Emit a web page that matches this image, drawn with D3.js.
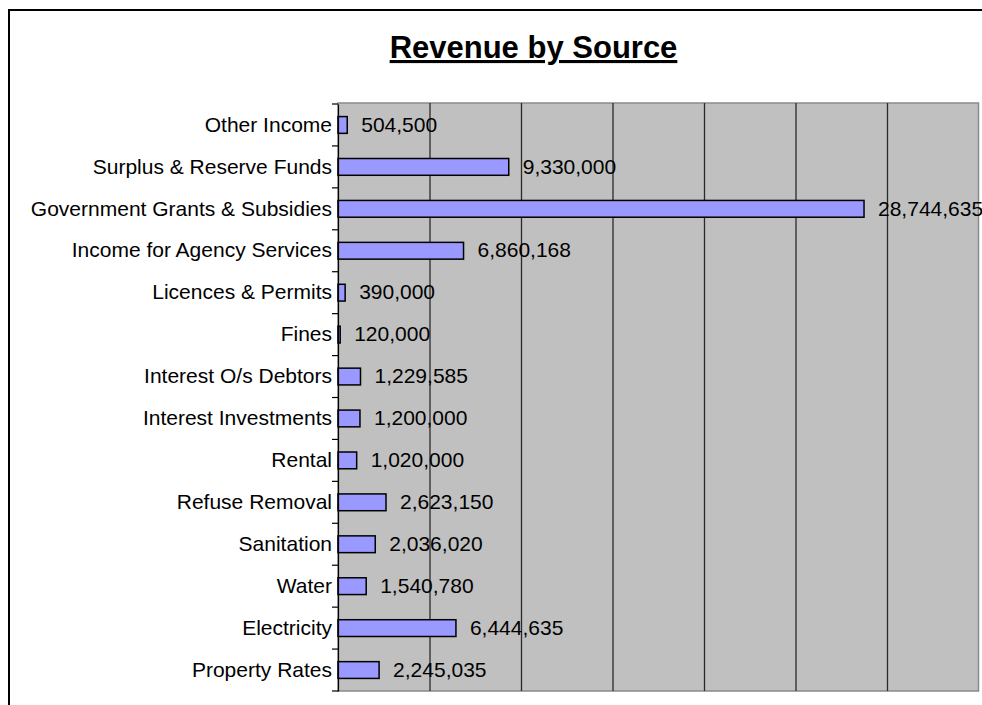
<!DOCTYPE html>
<html>
<head>
<meta charset="utf-8">
<script src="https://cdn.jsdelivr.net/npm/d3@7"></script>
<style>
  html, body { margin: 0; padding: 0; background: #fff; overflow: hidden; }
  svg { display: block; font-family: "Liberation Sans", Arial, sans-serif; }
</style>
</head>
<body>
<svg id="chart" width="982" height="705"></svg>
<script>
// Revenue sources, listed top to bottom
const categories = [
  "Other Income",
  "Surplus & Reserve Funds",
  "Government Grants & Subsidies",
  "Income for Agency Services",
  "Licences & Permits",
  "Fines",
  "Interest O/s Debtors",
  "Interest Investments",
  "Rental",
  "Refuse Removal",
  "Sanitation",
  "Water",
  "Electricity",
  "Property Rates"
];
const revenue = [
  504500, 9330000, 28744635, 6860168, 390000, 120000, 1229585,
  1200000, 1020000, 2623150, 2036020, 1540780, 6444635, 2245035
];
const gridValues = [5e6, 10e6, 15e6, 20e6, 25e6, 30e6];
const axisMax = 35e6;
const titleText = "Revenue by Source";

const svg = d3.select("#chart");

// outer chart frame (runs past the right and bottom edges)
svg.append("rect")
  .attr("x", 9).attr("y", 10)
  .attr("width", 1100).attr("height", 1100)
  .attr("fill", "none").attr("stroke", "#000").attr("stroke-width", 2);

const plot = { left: 338, right: 978.5, top: 103, bottom: 691 };

const x = d3.scaleLinear().domain([0, axisMax]).range([plot.left, plot.right]);
const y = d3.scaleBand().domain(categories)
  .range([plot.top + 1, plot.bottom])
  .paddingInner(0.6).paddingOuter(0.3);

// plot background
svg.append("rect")
  .attr("x", plot.left).attr("y", plot.top)
  .attr("width", plot.right - plot.left).attr("height", plot.bottom - plot.top)
  .attr("fill", "#C0C0C0").attr("stroke", "#8a8a8a").attr("stroke-width", 1.5);

// vertical gridlines
svg.append("g")
  .attr("transform", `translate(0,${plot.bottom})`)
  .call(d3.axisBottom(x).tickValues(gridValues).tickSize(plot.bottom - plot.top).tickFormat(""))
  .call(g => g.select(".domain").remove())
  .call(g => g.selectAll(".tick line")
    .attr("y2", -(plot.bottom - plot.top))
    .attr("stroke", "#2a2a2a").attr("stroke-width", 1.3));

// bars
svg.append("g").selectAll("rect")
  .data(categories)
  .join("rect")
  .attr("x", x(0))
  .attr("y", (d) => y(d))
  .attr("width", (d, i) => x(revenue[i]) - x(0))
  .attr("height", y.bandwidth())
  .attr("fill", "#9999FF")
  .attr("stroke", "#000")
  .attr("stroke-width", 1.5);

// value labels
const fmt = d3.format(",");
svg.append("g").selectAll("text")
  .data(categories)
  .join("text")
  .attr("x", (d, i) => x(revenue[i]) + 14)
  .attr("y", (d) => y(d) + y.bandwidth() / 2)
  .attr("dy", "0.32em")
  .attr("font-size", 21)
  .attr("fill", "#000")
  .text((d, i) => fmt(revenue[i]));

// category axis
const yAxis = svg.append("g")
  .attr("transform", `translate(${plot.left},0)`)
  .call(d3.axisLeft(y).tickSize(0).tickPadding(6));
yAxis.select(".domain").attr("stroke", "#000").attr("stroke-width", 1.2);
yAxis.selectAll(".tick text")
  .attr("font-size", 21)
  .attr("font-family", "\"Liberation Sans\", Arial, sans-serif")
  .attr("fill", "#000");

// tick marks on category boundaries
const boundaries = categories.map(c => y(c) - y.step() * y.paddingInner() / 2)
  .concat([plot.bottom]);
svg.append("g").selectAll("line")
  .data(boundaries)
  .join("line")
  .attr("x1", plot.left - 6).attr("x2", plot.left)
  .attr("y1", d => d).attr("y2", d => d)
  .attr("stroke", "#000").attr("stroke-width", 1.2);

// title
svg.append("text")
  .attr("x", 533.5).attr("y", 58)
  .attr("text-anchor", "middle")
  .attr("font-size", 31)
  .attr("font-weight", "bold")
  .attr("text-decoration", "underline")
  .attr("fill", "#000")
  .text(titleText);
</script>
</body>
</html>
